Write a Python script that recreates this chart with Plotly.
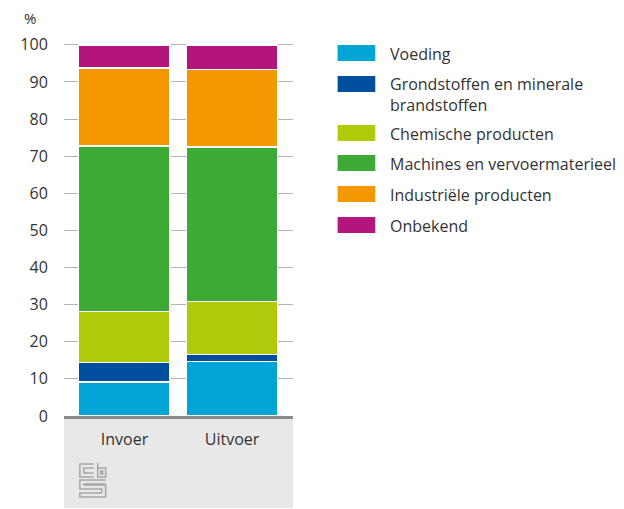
import plotly.graph_objects as go

categories = ["Invoer", "Uitvoer"]
series_names = [
    "Voeding",
    "Grondstoffen en minerale brandstoffen",
    "Chemische producten",
    "Machines en vervoermaterieel",
    "Industriële producten",
    "Onbekend",
]
legend_labels = [
    "Voeding",
    "Grondstoffen en minerale<br>brandstoffen",
    "Chemische producten",
    "Machines en vervoermaterieel",
    "Industriële producten",
    "Onbekend",
]
voeding = [9.2, 14.7]
grondstoffen = [5.2, 1.9]
chemische = [13.8, 14.3]
machines = [44.5, 41.6]
industriele = [21.0, 20.8]
onbekend = [6.3, 6.7]
series_values = [voeding, grondstoffen, chemische, machines, industriele, onbekend]
colors = ["#00a5d6", "#004f9f", "#afca0b", "#3eaa36", "#f39800", "#b4157d"]
y_ticks = [0, 10, 20, 30, 40, 50, 60, 70, 80, 90, 100]

OFF = 8  # page body margin
W, H = 624 - OFF, 509 - OFF
RL, RR, RT, RB = 62, 293, 43, 416
L, R, T, B = RL - OFF, RR - OFF, RT - OFF, RB - OFF
FONT = "Open Sans"
TXT = "#333333"


def px(x):
    return (x - RL) / (RR - RL)


def py(y):
    return (RB - y) / (RB - RT)


fig = go.Figure()
for name, vals, col in zip(series_names, series_values, colors):
    fig.add_trace(go.Bar(
        x=categories, y=vals, name=name,
        marker=dict(color=col, line=dict(color="white", width=1.5)),
        width=0.85, showlegend=False,
    ))

shapes = []
shapes.append(dict(type="rect", xref="paper", yref="paper",
                   x0=0, x1=1, y0=py(508), y1=0,
                   fillcolor="#e8e8e8", line=dict(width=0), layer="below"))

annotations = []
annotations.append(dict(text="%", xref="paper", yref="paper", x=px(20), y=py(18),
                        xanchor="left", yanchor="middle", showarrow=False,
                        font=dict(family=FONT, size=15, color=TXT)))

sw_tops = [45, 76, 125, 155, 186, 217]
txt_y = [54, 94, 134, 164, 195, 226]
for i, (lab, col) in enumerate(zip(legend_labels, colors)):
    shapes.append(dict(type="rect", xref="paper", yref="paper",
                       x0=px(338), x1=px(376), y0=py(sw_tops[i] + 16), y1=py(sw_tops[i]),
                       fillcolor=col, line=dict(width=0)))
    annotations.append(dict(text=lab, xref="paper", yref="paper",
                            x=px(389), y=py(txt_y[i]), xanchor="left", yanchor="middle",
                            align="left", showarrow=False,
                            font=dict(family=FONT, size=16, color=TXT)))

logo_col = "#a6a6a6"
logo_paths = [
    "M 92 464 L 78 464 L 78 477 L 92 477",
    "M 92 468 L 82 468 L 82 473 L 92 473",
    "M 96 463 L 96 477 L 104 477 L 104 468 L 96 468",
    "M 99 471 L 101 471 L 101 474 L 99 474 Z",
    "M 104 480 L 78 480 L 78 489 L 100 489 L 100 493 L 78 493 L 78 497 L 104 497 L 104 485 L 82 485 L 82 484 L 104 484",
]


def conv(path):
    out = []
    toks = path.split()
    i = 0
    while i < len(toks):
        t = toks[i]
        if t in ("M", "L"):
            out.append(f"{t} {px(float(toks[i + 1])):.5f} {py(float(toks[i + 2])):.5f}")
            i += 3
        else:
            out.append(t)
            i += 1
    return " ".join(out)


for p in logo_paths:
    shapes.append(dict(type="path", xref="paper", yref="paper", path=conv(p),
                       line=dict(color=logo_col, width=1.5)))

fig.update_layout(
    barmode="stack",
    width=W, height=H,
    margin=dict(l=L, r=W - R, t=T, b=H - B, pad=0),
    paper_bgcolor="white", plot_bgcolor="white",
    font=dict(family=FONT, size=16, color=TXT),
    showlegend=False,
    shapes=shapes,
    annotations=annotations,
    xaxis=dict(range=[-0.562, 1.567], showgrid=False, zeroline=False,
               showline=True, linecolor="#8a8a8a", linewidth=3,
               ticks="outside", ticklen=7, tickcolor="rgba(0,0,0,0)",
               tickfont=dict(family=FONT, size=16, color=TXT), fixedrange=True),
    yaxis=dict(range=[0, 100.5], tickvals=y_ticks, showgrid=True,
               gridcolor="#b3b3b3", gridwidth=1, zeroline=False, showline=False,
               ticks="outside", ticklen=12, tickcolor="rgba(0,0,0,0)",
               tickfont=dict(family=FONT, size=16, color=TXT), fixedrange=True),
)

fig.write_html("out.html")
